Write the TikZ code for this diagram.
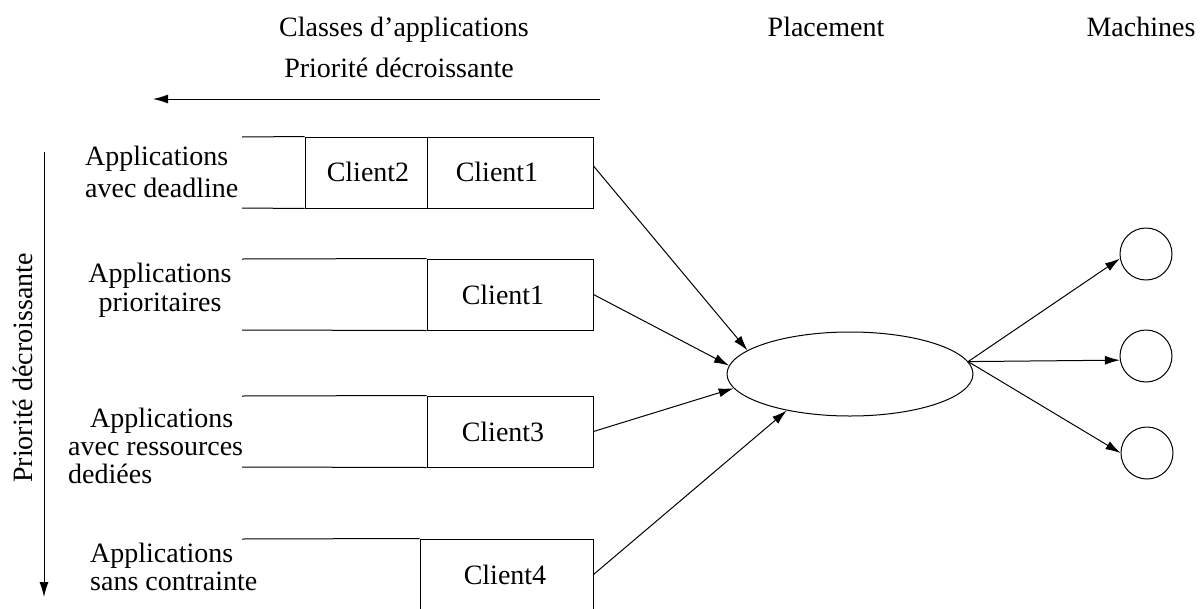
\documentclass[tikz,border=0pt]{standalone}
\usepackage{fontspec}
\setmainfont{Liberation Serif}
\usetikzlibrary{arrows.meta,shapes.geometric}
\begin{document}
\begin{tikzpicture}[x=1pt,y=-1pt,
  txt/.style={font=\fontsize{28}{31}\selectfont, inner sep=0pt},
  cell/.style={draw, line width=1pt, minimum height=71pt, inner sep=0pt},
  ln/.style={line width=1pt},
  arr/.style={line width=1pt, -{Latex[length=15pt,width=9pt]}},
  mach/.style={draw, circle, line width=1pt, minimum size=52pt, inner sep=0pt}]
\useasboundingbox (0,0) rectangle (1202,608);
\clip (0,0) rectangle (1202,608);
% headers
\node[txt, anchor=base] (hcls) at (404,36) {Classes d’applications};
\node[txt, anchor=base] (hpl) at (826,36) {Placement};
\node[txt, anchor=base] (hma) at (1141,36) {Machines};
\node[txt, anchor=base] (hpri) at (399,77) {Priorité décroissante};
\coordinate (ha) at (600,99);
\coordinate (hb) at (153,99);
\draw[arr] (ha) -- (hb);
\coordinate (va) at (44,152);
\coordinate (vb) at (44,597);
\draw[arr] (va) -- (vb);
\node[txt, rotate=90, anchor=base] (vpri) at (32,368) {Priorité décroissante};
% queue 1
\node[cell, minimum width=122pt] (c12) at (366,172.5) {};
\node[cell, minimum width=166pt] (c11) at (510,172.5) {};
\coordinate (q1t) at (242,137);
\coordinate (q1b) at (242,208);
\draw[ln] (q1t) -- (c12.north west);
\draw[ln] (q1b) -- (c12.south west);
\node[txt, anchor=base] (t12) at (368,181) {Client2};
\node[txt, anchor=base] (t11) at (497,181) {Client1};
% queue 2
\node[cell, minimum width=166pt] (c21) at (510,294.5) {};
\coordinate (q2t) at (242,259);
\coordinate (q2b) at (242,330);
\draw[ln] (q2t) -- (c21.north west);
\draw[ln] (q2b) -- (c21.south west);
\node[txt, anchor=base] (t21) at (503,304) {Client1};
% queue 3
\node[cell, minimum width=166pt] (c31) at (510,431.5) {};
\coordinate (q3t) at (242,396);
\coordinate (q3b) at (242,467);
\draw[ln] (q3t) -- (c31.north west);
\draw[ln] (q3b) -- (c31.south west);
\node[txt, anchor=base] (t31) at (503,441) {Client3};
% queue 4
\node[cell, minimum width=173pt] (c41) at (506.5,574.5) {};
\coordinate (q4t) at (242,539);
\draw[ln] (q4t) -- (c41.north west);
\node[txt, anchor=base] (t41) at (505,584) {Client4};
% class labels
\node[txt, anchor=base west] (a1a) at (85,165) {Applications};
\node[txt, anchor=base west] (a1b) at (85,197) {avec deadline};
\node[txt, anchor=base] (a2a) at (160,282) {Applications};
\node[txt, anchor=base] (a2b) at (160,311) {prioritaires};
\node[txt, anchor=base west] (a3a) at (90,427) {Applications};
\node[txt, anchor=base west] (a3b) at (68,455) {avec ressources};
\node[txt, anchor=base west] (a3c) at (68,483) {dediées};
\node[txt, anchor=base west] (a4a) at (90,562) {Applications};
\node[txt, anchor=base west] (a4b) at (90,590) {sans contrainte};
% placement
\node[draw, ellipse, line width=1pt, minimum width=246pt, minimum height=84pt, inner sep=0pt] (pl) at (850,374) {};
% machines
\node[mach] (m1) at (1146,254) {};
\node[mach] (m2) at (1146,356) {};
\node[mach] (m3) at (1147,453) {};
% connectors
\draw[arr] ([yshift=6.5pt]c11.east) -- (pl.167.6);
\draw[arr] (c21.east) -- (pl.176.7);
\draw[arr] (c31.east) -- (pl.187.4);
\draw[arr] (c41.east) -- (pl.210.2);
\draw[arr] (pl.6.8) -- (m1.190);
\draw[arr] (pl.6.8) -- (m2.189);
\draw[arr] (pl.6.8) -- (m3.west);
\end{tikzpicture}
\end{document}
